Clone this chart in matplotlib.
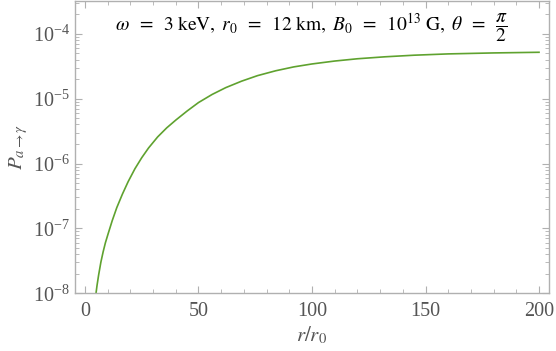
import numpy as np
import matplotlib
matplotlib.use("Agg")
import matplotlib.pyplot as plt
from matplotlib.ticker import MultipleLocator, LogLocator, NullFormatter

plt.rcParams['mathtext.fontset'] = 'stix'
plt.rcParams['font.family'] = ['Liberation Serif', 'DejaVu Serif']

# values (r / r0, log10 P)
r_over_r0 = [4.85, 5.3, 6.0, 7.0, 8.0, 9.0, 10.3, 12.0, 14.0, 16.5, 19.0, 22.0,
             25.0, 28.0, 32.0, 36.0, 40.0, 45.0, 50.0, 56.0, 62.0, 69.0, 76.0,
             84.0, 92.0, 100.0, 110.0, 120.0, 132.0, 145.0, 160.0, 180.0, 200.0]
log_p = [-8.0, -7.88, -7.72, -7.52, -7.36, -7.22, -7.07, -6.88, -6.68, -6.47,
         -6.28, -6.08, -5.91, -5.76, -5.59, -5.45, -5.33, -5.19, -5.06, -4.935,
         -4.83, -4.73, -4.645, -4.57, -4.51, -4.465, -4.42, -4.385, -4.355,
         -4.33, -4.31, -4.295, -4.285]
p_conv = 10.0 ** np.array(log_p)

title = (r'$\omega\;\;=\;\;3\ \mathrm{keV},\;r_0\;\;=\;\;12\ \mathrm{km},\;'
         r'B_0\;\;=\;\;10^{13}\ \mathrm{G},\;\theta\;\;=\;\;\dfrac{\pi}{2}$')

frame_col = '#b0b0b0'
label_col = '#555555'

fig = plt.figure(figsize=(5.56, 3.51), dpi=100)
ax = fig.add_axes([75/556, 1 - 293.3/351, (549 - 75)/556, 293.3/351 - 0.002])

ax.plot(r_over_r0, p_conv, color='#5fa22f', lw=1.2)

ax.set_yscale('log')
ax.set_xlim(-4.4, 204.4)
ax.set_ylim(1e-8, 10 ** -3.49)

ax.xaxis.set_major_locator(MultipleLocator(50))
ax.xaxis.set_minor_locator(MultipleLocator(10))
ax.yaxis.set_major_locator(LogLocator(base=10, numticks=10))
ax.yaxis.set_minor_locator(LogLocator(base=10, subs=np.arange(2, 10), numticks=20))
ax.yaxis.set_minor_formatter(NullFormatter())

for s in ax.spines.values():
    s.set_color(frame_col)
    s.set_linewidth(1.0)
ax.tick_params(which='both', direction='in', top=True, right=True,
               color=frame_col, labelcolor=label_col, labelsize=14.5)
ax.tick_params(which='major', length=5, width=0.8)
ax.tick_params(which='minor', length=3, width=0.6)
ax.tick_params(axis='x', pad=6)

ax.text(0.499, 0.905, title, transform=ax.transAxes, ha='center', va='center',
        fontsize=14, color='black')

ax.set_xlabel(r'$r/r_0$', fontsize=15, color=label_col, labelpad=3)
ax.set_ylabel(r'$P_{a\to\gamma}$', fontsize=15, color=label_col, labelpad=2)

fig.savefig('out.png', dpi=100)
